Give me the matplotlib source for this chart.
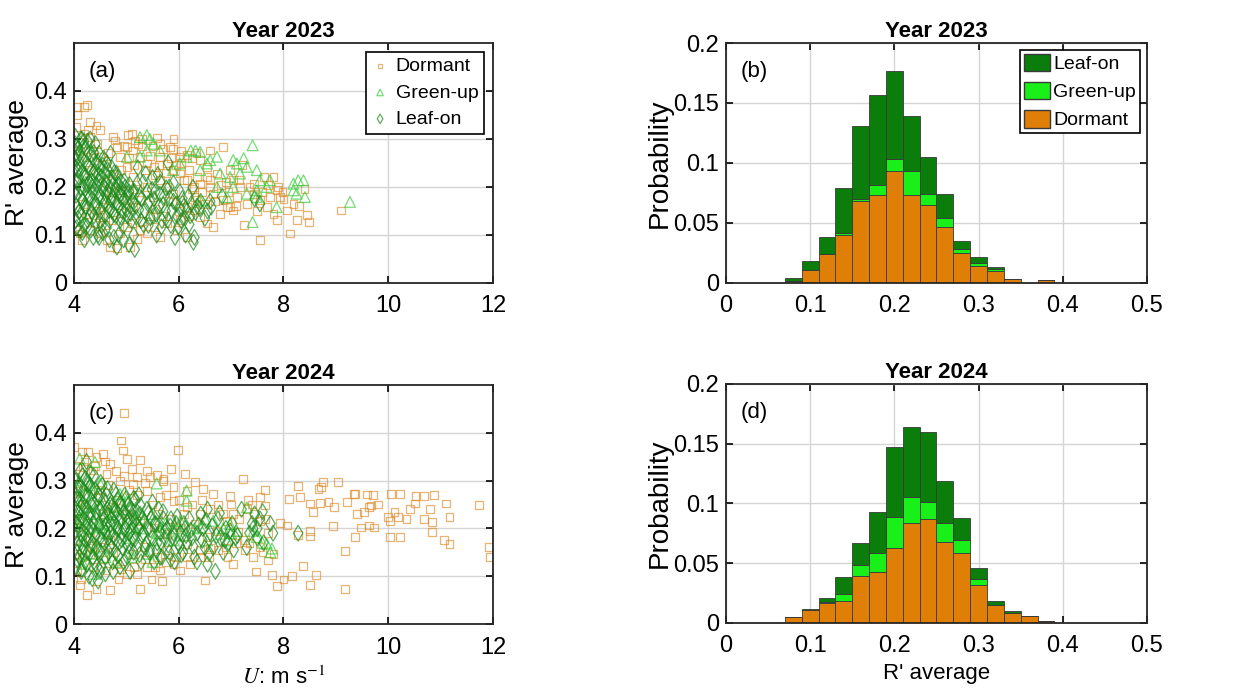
import numpy as np
import matplotlib
matplotlib.use('Agg')
import matplotlib.pyplot as plt
from matplotlib.patches import Patch

plt.rcParams['font.family'] = ['Liberation Sans', 'DejaVu Sans']
plt.rcParams['mathtext.fontset'] = 'stix'

# ---- scatter data, (U, R' average) ----
dormant_2023 = [
    (4.06, .366), (4.19, .366), (4.25, .37), (4.05, .35), (4.04, .325), (4.31, .336), (4.27, .318),
    (4.43, .328), (4.50, .318), (4.31, .304), (4.75, .304), (4.78, .297), (5.03, .308), (5.17, .297),
    (5.23, .29), (5.58, .302), (5.83, .283), (5.89, .28), (5.01, .283), (4.82, .283), (6.85, .283),
    (6.59, .276), (6.34, .27), (6.15, .266), (6.02, .262), (6.41, .256), (6.54, .242), (6.73, .228),
    (6.98, .235), (7.04, .214), (7.17, .2), (7.43, .207), (7.62, .221), (7.81, .221), (7.87, .193),
    (7.94, .179), (7.55, .172), (7.68, .158), (7.81, .144), (7.87, .131), (8.06, .151), (8.19, .165),
    (8.25, .131), (8.45, .141), (8.48, .127), (8.13, .103), (7.55, .089), (9.10, .151), (7.24, .12),
    (7.04, .151), (6.92, .158), (6.79, .144), (6.66, .117), (6.54, .124), (6.41, .138), (6.29, .151),
    (6.15, .158), (6.34, .172), (6.66, .186), (6.85, .172), (6.98, .158), (7.11, .179), (7.30, .165),
    (7.43, .186), (6.15, .096), (5.96, .11), (5.64, .096), (5.39, .103), (5.20, .092), (5.07, .075),
    (4.82, .072), (4.69, .075), (4.62, .089), (4.50, .103), (4.31, .11), (4.15, .089), (4.11, .103),
    (4.05, .11), (4.88, .103), (5.01, .117), (5.26, .11), (5.52, .117), (5.77, .124), (6.03, .131),
    (4.75, .131), (4.50, .138), (5.13, .276), (5.26, .263), (5.39, .249), (5.52, .242), (5.64, .263),
    (5.77, .249), (5.89, .235), (6.03, .228), (6.15, .214), (6.29, .2), (6.41, .207), (6.54, .221),
    (5.64, .214), (5.77, .2), (5.89, .186), (6.03, .172), (5.39, .2), (5.26, .172), (5.13, .158),
    (5.01, .172), (4.88, .193), (4.75, .228), (4.62, .249), (4.50, .263), (4.37, .276), (4.24, .263),
    (4.11, .276), (4.88, .263), (5.01, .242), (5.13, .221), (4.69, .172), (4.56, .158), (4.43, .151),
    (4.24, .144), (4.18, .165), (7.98, .19), (7.7, .205), (7.2, .245), (6.9, .21), (6.6, .2),
    (4.6, .21), (4.7, .19), (4.9, .235), (5.05, .26), (5.15, .245), (5.3, .285), (5.35, .235),
    (5.45, .265), (5.55, .225), (5.62, .245), (5.7, .28), (5.75, .23), (5.85, .26), (5.95, .245),
    (6.05, .25), (6.1, .215), (6.2, .235), (6.25, .195), (6.35, .22), (6.45, .19), (6.5, .165),
    (6.6, .215), (6.7, .17), (6.8, .205), (6.95, .19), (7.1, .16), (7.15, .215), (7.35, .2),
    (7.5, .15), (7.6, .19), (7.75, .18), (7.9, .2), (8.0, .175), (8.3, .16), (8.4, .195),
    (5.2, .195), (5.5, .18), (5.8, .17), (6.0, .15), (6.2, .14), (6.3, .18), (5.45, .14),
    (5.7, .14), (4.4, .125), (4.6, .12), (4.9, .145), (5.1, .125), (5.3, .13), (5.55, .155),
    (4.3, .235), (4.45, .29), (4.2, .31), (4.65, .27), (4.95, .285), (5.1, .31), (5.3, .3),
    (5.5, .285), (5.65, .29), (5.9, .3), (6.05, .275), (6.25, .26),
]
greenup_2023 = [
    (5.39, .308), (5.26, .304), (5.45, .30), (6.23, .276), (6.32, .276), (6.41, .273), (7.41, .287),
    (6.60, .256), (6.73, .263), (7.04, .256), (7.11, .249), (7.24, .26), (7.30, .242), (7.49, .235),
    (7.17, .228), (6.98, .221), (6.79, .228), (7.55, .214), (7.74, .214), (7.49, .193), (7.49, .179),
    (7.68, .2), (7.87, .158), (8.19, .207), (8.28, .214), (8.38, .214), (8.25, .186), (8.41, .179),
    (8.19, .193), (9.27, .169), (7.41, .127), (6.54, .249), (6.41, .235), (6.15, .263), (6.02, .249),
    (5.89, .235), (5.39, .276), (5.26, .263), (5.52, .29), (5.64, .276), (5.01, .263), (6.41, .172),
    (6.73, .2), (6.92, .179), (7.30, .186), (7.04, .2),
]
leafon_2023 = [
    (4.02, .29), (4.05, .27), (4.03, .24), (4.06, .21), (4.02, .19), (4.04, .16), (4.03, .13),
    (4.08, .28), (4.10, .25), (4.09, .22), (4.12, .18), (4.11, .15), (4.10, .11), (4.15, .30),
    (4.16, .26), (4.14, .23), (4.18, .20), (4.17, .17), (4.15, .14), (4.19, .12), (4.22, .28),
    (4.24, .25), (4.21, .22), (4.25, .19), (4.23, .16), (4.26, .13), (4.28, .27), (4.30, .24),
    (4.29, .21), (4.31, .18), (4.33, .15), (4.32, .11), (4.36, .26), (4.37, .23), (4.35, .20),
    (4.39, .17), (4.38, .14), (4.41, .29), (4.43, .25), (4.42, .22), (4.45, .19), (4.44, .16),
    (4.46, .10), (4.48, .27), (4.50, .24), (4.49, .21), (4.52, .18), (4.51, .15), (4.53, .12),
    (4.56, .26), (4.58, .23), (4.57, .20), (4.60, .17), (4.59, .14), (4.63, .25), (4.65, .22),
    (4.64, .19), (4.66, .16), (4.68, .13), (4.70, .27), (4.72, .24), (4.71, .21), (4.74, .18),
    (4.73, .15), (4.77, .23), (4.79, .20), (4.78, .17), (4.80, .14), (4.76, .095), (4.82, .075),
    (4.84, .22), (4.86, .19), (4.85, .16), (4.88, .13), (4.91, .21), (4.93, .18), (4.92, .15),
    (4.95, .12), (4.98, .20), (5.00, .17), (5.02, .14), (5.05, .19), (5.07, .16), (5.10, .13),
    (5.12, .19), (5.14, .10), (5.16, .07), (5.18, .16), (5.22, .24), (5.25, .18), (5.28, .13),
    (5.32, .21), (5.35, .15), (5.40, .19), (5.42, .12), (5.45, .17), (5.50, .22), (5.52, .14),
    (5.55, .19), (5.58, .10), (5.62, .16), (5.65, .21), (5.68, .13), (5.72, .18), (5.75, .15),
    (5.80, .25), (5.82, .20), (5.85, .12), (5.90, .17), (5.93, .095), (5.97, .14), (6.02, .19),
    (6.05, .13), (6.10, .16), (6.13, .10), (6.18, .18), (6.22, .14), (6.28, .085), (6.30, .095),
    (6.35, .16), (6.42, .17), (6.55, .15), (6.60, .17), (7.55, .165), (6.83, .18), (4.20, .09),
    (4.37, .095), (4.13, .30), (4.31, .30), (4.02, .26), (4.07, .235), (4.27, .205), (4.47, .225),
    (4.01, .215), (4.04, .183), (4.07, .262), (4.09, .148), (4.12, .238), (4.13, .197), (4.16, .172),
    (4.18, .284), (4.2, .227), (4.22, .158), (4.23, .205), (4.27, .243), (4.28, .176), (4.3, .139),
    (4.33, .268), (4.34, .212), (4.36, .189), (4.4, .233), (4.41, .161), (4.43, .204), (4.46, .252),
    (4.47, .178), (4.5, .131), (4.52, .221), (4.54, .196), (4.55, .245), (4.58, .167), (4.61, .209),
    (4.62, .183), (4.64, .236), (4.67, .151), (4.69, .199), (4.71, .174), (4.74, .218), (4.76, .143),
    (4.78, .193), (4.81, .229), (4.82, .167), (4.85, .205), (4.87, .182), (4.9, .137), (4.92, .195),
    (4.94, .171), (4.96, .213), (5.0, .154), (5.03, .186), (5.06, .205), (5.08, .145), (5.11, .172),
    (5.15, .191), (5.19, .137), (5.21, .208), (5.24, .153), (5.29, .176), (5.33, .121), (5.37, .228),
    (5.41, .165), (5.46, .136), (5.49, .195), (5.53, .175), (5.57, .143), (5.6, .226), (5.64, .185),
    (5.67, .117), (5.7, .163), (5.76, .198), (5.79, .131), (5.83, .177), (5.87, .151), (5.9, .208),
    (5.95, .164), (6.0, .118), (6.03, .155), (6.07, .176), (6.12, .135), (6.16, .151), (6.2, .122),
    (6.24, .165), (6.32, .147), (6.27, .199), (6.4, .155), (6.5, .135), (6.62, .158), (7.45, .175),
    (4.03, .305), (4.06, .285), (4.11, .27), (4.19, .295), (4.26, .295), (4.38, .272), (4.05, .115),
    (4.08, .135), (4.16, .105), (4.25, .118), (4.42, .128), (4.55, .105), (4.62, .115), (4.85, .10),
    (4.95, .09), (5.05, .08), (4.68, .09), (4.48, .095),
]

dormant_2024 = [
    (8.27, .288), (8.71, .286), (8.75, .297), (8.67, .283), (9.04, .297), (9.34, .272), (9.37, .272),
    (9.59, .271), (9.71, .27), (10.06, .272), (10.23, .272), (10.52, .267), (10.68, .267), (10.88, .269),
    (11.10, .252), (11.73, .249), (8.10, .262), (8.32, .266), (8.51, .252), (8.57, .235), (8.70, .254),
    (8.86, .256), (8.96, .245), (9.22, .256), (9.41, .231), (9.54, .234), (9.64, .245), (9.67, .248),
    (9.80, .25), (9.99, .223), (10.03, .216), (10.12, .234), (10.19, .223), (10.35, .22), (10.41, .241),
    (10.51, .252), (10.68, .22), (10.80, .241), (10.84, .213), (10.84, .192), (11.06, .175), (11.17, .168),
    (11.17, .223), (10.03, .182), (10.22, .182), (9.64, .206), (9.73, .202), (9.37, .182), (9.48, .202),
    (8.95, .205), (8.51, .183), (8.51, .195), (8.27, .187), (8.06, .206), (7.94, .211), (11.92, .161),
    (11.94, .14), (9.17, .152), (8.38, .121), (8.62, .102), (8.51, .082), (9.17, .074), (8.16, .1),
    (8.0, .093), (7.87, .079), (7.78, .103), (7.48, .11), (6.5, .091),
    (4.96, .441), (4.90, .384), (5.99, .364), (4.0, .371), (4.15, .361), (4.27, .36), (4.56, .356),
    (4.43, .349), (4.93, .363), (4.69, .334), (5.01, .346), (5.26, .344), (5.85, .325), (6.12, .314),
    (6.31, .297), (7.22, .304), (5.10, .325), (5.21, .307), (5.45, .307), (5.58, .311), (5.71, .304),
    (5.90, .286), (6.15, .279), (6.47, .283), (6.66, .272), (6.98, .268), (7.33, .259), (7.65, .281),
    (7.55, .265), (7.65, .248), (7.04, .23), (7.30, .241), (7.43, .23), (7.55, .216), (7.13, .192),
    (7.26, .175), (7.26, .154), (7.42, .14), (7.55, .161), (7.71, .133), (7.81, .147), (6.93, .14),
    (7.04, .126), (6.76, .154), (6.57, .14), (6.41, .154), (6.22, .126), (6.03, .112), (5.90, .126),
    (5.64, .112), (5.68, .09), (5.48, .093), (5.26, .074), (5.20, .105), (5.01, .105), (4.85, .093),
    (4.69, .072), (4.43, .074), (4.25, .06), (4.11, .081), (4.13, .093), (4.05, .112), (4.04, .147),
    (4.02, .175), (4.08, .202), (4.37, .119), (4.62, .112), (4.82, .126), (5.39, .119), (5.58, .14),
    (5.77, .154), (6.15, .168), (6.54, .182), (6.73, .195), (6.92, .216), (6.41, .23), (6.15, .244),
    (5.90, .258), (5.64, .265), (5.39, .279), (5.13, .293), (4.88, .30), (4.62, .314), (4.37, .321),
    (4.18, .328), (4.02, .307), (4.11, .279), (4.05, .258), (4.50, .265), (4.75, .245), (5.01, .23),
    (5.26, .216), (5.52, .202), (5.77, .189), (6.03, .202), (4.69, .175), (4.50, .161), (4.31, .147),
    (5.13, .147), (5.33, .161),
    (4.1, .22), (4.2, .25), (4.3, .18), (4.45, .28), (4.55, .23), (4.65, .29), (4.8, .26),
    (4.95, .31), (5.05, .28), (5.2, .27), (5.35, .295), (5.5, .25), (5.6, .23), (5.75, .27),
    (5.85, .22), (6.0, .26), (6.1, .23), (6.25, .25), (6.3, .21), (6.45, .26), (6.6, .24),
    (6.75, .25), (6.85, .23), (7.0, .25), (7.15, .22), (7.4, .25), (7.65, .22), (7.7, .19),
    (4.15, .14), (4.35, .16), (4.55, .135), (4.75, .15), (4.9, .115), (5.15, .12), (5.35, .135),
    (5.55, .12), (5.75, .13), (5.95, .14), (6.15, .14), (6.4, .14), (6.6, .16), (6.9, .16),
    (7.1, .17), (7.35, .17), (7.6, .15), (4.05, .33), (4.2, .34), (4.4, .33), (4.6, .34),
    (4.8, .32), (5.4, .32), (5.7, .3),
]
greenup_2024 = [
    (4.11, .346), (4.40, .339), (4.50, .294), (4.75, .245), (4.37, .147), (4.18, .126), (5.58, .294),
    (6.15, .279), (6.15, .258), (6.41, .202), (6.54, .175), (6.98, .209), (7.11, .195), (7.43, .195),
    (7.49, .182), (7.78, .158), (7.68, .168), (7.30, .244), (5.39, .147), (5.52, .175), (5.13, .202),
    (5.01, .258), (4.24, .245), (4.05, .216), (4.18, .175), (4.50, .202), (4.69, .216), (5.90, .175),
    (6.03, .216), (6.66, .216), (6.79, .189), (6.92, .175), (4.37, .105), (4.05, .286), (4.88, .272),
    (5.26, .23), (5.64, .202),
    (4.02, .26), (4.08, .24), (4.15, .22), (4.22, .27), (4.28, .2), (4.33, .23), (4.45, .25),
    (4.55, .21), (4.62, .19), (4.72, .23), (4.85, .2), (4.95, .24), (5.05, .18), (5.18, .22),
    (5.32, .2), (5.48, .23), (5.6, .19), (5.75, .21), (5.95, .2), (6.1, .185), (6.3, .2),
    (6.5, .22), (6.85, .2), (7.0, .19), (7.6, .17), (7.75, .15), (4.1, .3), (4.3, .29),
    (4.4, .16), (4.6, .14), (4.8, .13), (5.1, .14), (5.5, .13), (4.2, .145),
]
leafon_2024 = [
    (4.02, .30), (4.04, .27), (4.03, .24), (4.05, .21), (4.02, .18), (4.06, .15), (4.04, .12),
    (4.09, .29), (4.11, .26), (4.10, .23), (4.12, .20), (4.13, .17), (4.11, .14), (4.16, .31),
    (4.18, .28), (4.17, .25), (4.19, .22), (4.20, .19), (4.18, .16), (4.21, .13), (4.24, .34),
    (4.25, .30), (4.26, .27), (4.24, .24), (4.27, .21), (4.28, .18), (4.26, .15), (4.29, .10),
    (4.31, .29), (4.33, .26), (4.32, .23), (4.34, .20), (4.35, .17), (4.36, .14), (4.38, .31),
    (4.40, .28), (4.39, .25), (4.41, .22), (4.42, .19), (4.43, .16), (4.44, .12), (4.46, .09),
    (4.47, .27), (4.49, .24), (4.48, .21), (4.50, .18), (4.51, .15), (4.54, .29), (4.56, .26),
    (4.55, .23), (4.57, .20), (4.58, .17), (4.60, .14), (4.62, .27), (4.64, .24), (4.63, .21),
    (4.65, .18), (4.66, .15), (4.69, .25), (4.71, .22), (4.70, .19), (4.72, .16), (4.74, .13),
    (4.76, .28), (4.78, .24), (4.77, .21), (4.79, .18), (4.80, .15), (4.83, .26), (4.85, .23),
    (4.84, .20), (4.86, .17), (4.88, .12), (4.90, .25), (4.92, .22), (4.91, .19), (4.93, .16),
    (4.97, .27), (4.99, .23), (4.98, .20), (5.00, .17), (5.02, .14), (5.04, .25), (5.06, .22),
    (5.05, .19), (5.07, .11), (5.10, .24), (5.12, .21), (5.11, .18), (5.14, .15), (5.17, .26),
    (5.19, .22), (5.18, .19), (5.21, .16), (5.24, .27), (5.26, .23), (5.25, .20), (5.28, .13),
    (5.31, .22), (5.33, .19), (5.36, .16), (5.39, .24), (5.41, .20), (5.44, .15), (5.47, .22),
    (5.50, .18), (5.53, .13), (5.56, .21), (5.59, .17), (5.62, .24), (5.65, .19), (5.68, .14),
    (5.71, .22), (5.74, .18), (5.78, .20), (5.82, .15), (5.85, .22), (5.88, .18), (5.92, .13),
    (5.95, .21), (5.99, .17), (6.04, .19), (6.08, .15), (6.12, .20), (6.16, .17), (6.20, .22),
    (6.25, .18), (6.30, .14), (6.35, .19), (6.42, .23), (6.46, .20), (6.50, .16), (6.55, .24),
    (6.60, .19), (6.66, .16), (6.70, .11), (6.75, .22), (6.80, .18), (6.85, .15), (6.90, .20),
    (6.95, .17), (7.02, .21), (7.08, .18), (7.20, .24), (7.30, .16), (7.35, .19), (7.40, .21),
    (7.45, .23), (7.50, .18), (7.55, .22), (7.62, .17), (7.75, .21), (7.80, .19), (8.28, .19),
    (4.14, .11), (4.35, .095), (4.50, .11),
    (4.01, .225), (4.03, .195), (4.05, .262), (4.07, .168), (4.08, .283), (4.1, .213), (4.13, .245),
    (4.14, .186), (4.16, .152), (4.19, .236), (4.21, .268), (4.22, .205), (4.23, .175), (4.27, .292),
    (4.28, .228), (4.3, .196), (4.31, .163), (4.34, .248), (4.36, .279), (4.37, .212), (4.4, .185),
    (4.42, .233), (4.45, .262), (4.46, .151), (4.48, .205), (4.51, .296), (4.53, .242), (4.55, .176),
    (4.57, .219), (4.6, .255), (4.61, .192), (4.64, .283), (4.66, .227), (4.68, .163), (4.7, .208),
    (4.73, .247), (4.75, .186), (4.77, .232), (4.8, .271), (4.82, .199), (4.84, .142), (4.87, .216),
    (4.89, .255), (4.91, .176), (4.94, .233), (4.96, .198), (4.99, .262), (5.01, .214), (5.03, .163),
    (5.06, .238), (5.08, .195), (5.12, .226), (5.14, .263), (5.16, .177), (5.2, .236), (5.22, .203),
    (5.27, .248), (5.3, .186), (5.34, .215), (5.38, .168), (5.42, .232), (5.46, .197), (5.5, .255),
    (5.54, .21), (5.58, .153), (5.63, .208), (5.66, .171), (5.7, .235), (5.75, .195), (5.8, .165),
    (5.84, .205), (5.9, .19), (5.97, .225), (6.02, .163), (6.1, .21), (6.14, .185), (6.23, .196),
    (6.28, .162), (6.38, .207), (6.45, .175), (6.52, .217), (6.58, .148), (6.64, .205), (6.72, .185),
    (6.78, .232), (6.88, .175), (6.98, .195), (7.05, .155), (7.12, .185), (7.42, .2), (7.5, .2),
    (7.6, .235), (4.12, .32), (4.32, .315), (4.22, .305), (4.06, .135), (4.15, .115), (4.25, .125),
    (4.38, .13), (4.52, .12), (4.6, .105), (4.75, .11), (4.95, .13), (5.05, .15), (5.25, .145),
    (5.45, .155), (5.65, .14), (5.85, .135), (6.05, .145), (6.35, .13), (6.55, .125),
]

# ---- histogram data: bin centres and stacked probabilities ----
bin_centres = [0.08, 0.10, 0.12, 0.14, 0.16, 0.18, 0.20, 0.22, 0.24, 0.26, 0.28, 0.30, 0.32, 0.34, 0.36, 0.38]
dorm_p_2023 = [0.002, 0.011, 0.024, 0.040, 0.068, 0.0735, 0.093, 0.0735, 0.065, 0.047, 0.025, 0.0145, 0.010, 0.0036, 0.0, 0.0025]
green_p_2023 = [0.0, 0.0, 0.0, 0.002, 0.002, 0.0085, 0.010, 0.0195, 0.009, 0.007, 0.003, 0.0025, 0.002, 0.0, 0.0, 0.0]
leaf_p_2023 = [0.002, 0.007, 0.014, 0.037, 0.061, 0.075, 0.074, 0.046, 0.031, 0.020, 0.007, 0.005, 0.001, 0.0, 0.0, 0.0]
dorm_p_2024 = [0.005, 0.011, 0.0167, 0.0187, 0.039, 0.043, 0.063, 0.084, 0.087, 0.068, 0.0586, 0.032, 0.0148, 0.008, 0.006, 0.002]
green_p_2024 = [0.0, 0.0, 0.001, 0.0053, 0.0095, 0.0156, 0.026, 0.0217, 0.0145, 0.016, 0.011, 0.005, 0.0, 0.0, 0.0, 0.0]
leaf_p_2024 = [0.0, 0.001, 0.0033, 0.0145, 0.0185, 0.0344, 0.058, 0.0583, 0.0585, 0.035, 0.0185, 0.0087, 0.0032, 0.0018, 0.0, 0.0]

c_dorm = '#dc8a28'
c_green = '#3ccc3c'
c_leaf = '#1a8a1a'
h_dorm = '#e07f08'
h_green = '#19f019'
h_leaf = '#0a7d0a'

fig = plt.figure(figsize=(12.56, 6.88), dpi=100)
ax_a = fig.add_axes([0.0589, 0.5887, 0.3336, 0.3488])
ax_c = fig.add_axes([0.0589, 0.0930, 0.3336, 0.3474])
ax_b = fig.add_axes([0.5780, 0.5887, 0.3352, 0.3488])
ax_d = fig.add_axes([0.5780, 0.0945, 0.3352, 0.3474])


def style(ax):
    ax.grid(True, color='#d5d5d5', linewidth=1.0)
    ax.set_axisbelow(True)
    ax.tick_params(direction='in', length=5, width=1.2, top=True, right=True, labelsize=17)
    ax.tick_params(axis='x', pad=9)
    ax.tick_params(axis='y', pad=5)
    for s in ax.spines.values():
        s.set_linewidth(1.3)
        s.set_color('#262626')


def scatter_panel(ax, dorm, green, leaf, title, label, legend):
    d = np.array(dorm)
    g = np.array(green)
    l = np.array(leaf)
    ax.scatter(d[:, 0], d[:, 1], s=32, marker='s', facecolors='none', edgecolors=c_dorm, linewidths=0.9,
               alpha=0.65, label='Dormant')
    ax.scatter(g[:, 0], g[:, 1], s=60, marker='^', facecolors='none', edgecolors=c_green, linewidths=0.9,
               alpha=0.7, label='Green-up')
    ax.scatter(l[:, 0], l[:, 1], s=65, marker='d', facecolors='none', edgecolors=c_leaf, linewidths=0.9,
               alpha=0.7, label='Leaf-on')
    ax.set_xlim(4, 12)
    ax.set_ylim(0, 0.5)
    ax.set_xticks([4, 6, 8, 10, 12])
    ax.set_yticks([0, 0.1, 0.2, 0.3, 0.4])
    ax.set_yticklabels(['0', '0.1', '0.2', '0.3', '0.4'])
    ax.set_ylabel("R' average", fontsize=19, labelpad=4)
    ax.set_title(title, fontsize=16, fontweight='bold', pad=4)
    ax.text(0.035, 0.88, label, transform=ax.transAxes, fontsize=16, va='center')
    style(ax)
    if legend:
        leg = ax.legend(loc='upper right', fontsize=14, fancybox=False, edgecolor='black', framealpha=1,
                        borderaxespad=0.45, handletextpad=0.35, borderpad=0.3, labelspacing=0.45,
                        markerscale=0.6, handlelength=0.9)
        leg.get_frame().set_linewidth(1.2)


def hist_panel(ax, dorm, green, leaf, title, label, legend):
    dorm = np.array(dorm)
    green = np.array(green)
    leaf = np.array(leaf)
    kw = dict(width=0.02, edgecolor='#3a3a3a', linewidth=0.6)
    ax.bar(bin_centres, dorm, color=h_dorm, label='Dormant', **kw)
    ax.bar(bin_centres, green, bottom=dorm, color=h_green, label='Green-up', **kw)
    ax.bar(bin_centres, leaf, bottom=dorm + green, color=h_leaf, label='Leaf-on', **kw)
    ax.set_xlim(0, 0.5)
    ax.set_ylim(0, 0.2)
    ax.set_xticks([0, 0.1, 0.2, 0.3, 0.4, 0.5])
    ax.set_xticklabels(['0', '0.1', '0.2', '0.3', '0.4', '0.5'])
    ax.set_yticks([0, 0.05, 0.1, 0.15, 0.2])
    ax.set_yticklabels(['0', '0.05', '0.1', '0.15', '0.2'])
    ax.set_ylabel('Probability', fontsize=20, labelpad=0)
    ax.set_title(title, fontsize=16, fontweight='bold', pad=4)
    ax.text(0.035, 0.88, label, transform=ax.transAxes, fontsize=16, va='center')
    style(ax)
    if legend:
        handles = [Patch(facecolor=h_leaf, edgecolor='#3a3a3a'),
                   Patch(facecolor=h_green, edgecolor='#3a3a3a'),
                   Patch(facecolor=h_dorm, edgecolor='#3a3a3a')]
        leg = ax.legend(handles, ['Leaf-on', 'Green-up', 'Dormant'], loc='upper right', fontsize=14,
                        fancybox=False, edgecolor='black', framealpha=1, borderaxespad=0.36,
                        handletextpad=0.15, borderpad=0.2, labelspacing=0.45,
                        handlelength=1.35, handleheight=1.0)
        leg.get_frame().set_linewidth(1.2)


scatter_panel(ax_a, dormant_2023, greenup_2023, leafon_2023, 'Year 2023', '(a)', True)
scatter_panel(ax_c, dormant_2024, greenup_2024, leafon_2024, 'Year 2024', '(c)', False)
ax_c.set_xlabel(r'$U$: m s$^{-1}$', fontsize=16, labelpad=6)
hist_panel(ax_b, dorm_p_2023, green_p_2023, leaf_p_2023, 'Year 2023', '(b)', True)
hist_panel(ax_d, dorm_p_2024, green_p_2024, leaf_p_2024, 'Year 2024', '(d)', False)
ax_d.set_xlabel("R' average", fontsize=16, labelpad=4)

fig.savefig('out.png', dpi=100)
